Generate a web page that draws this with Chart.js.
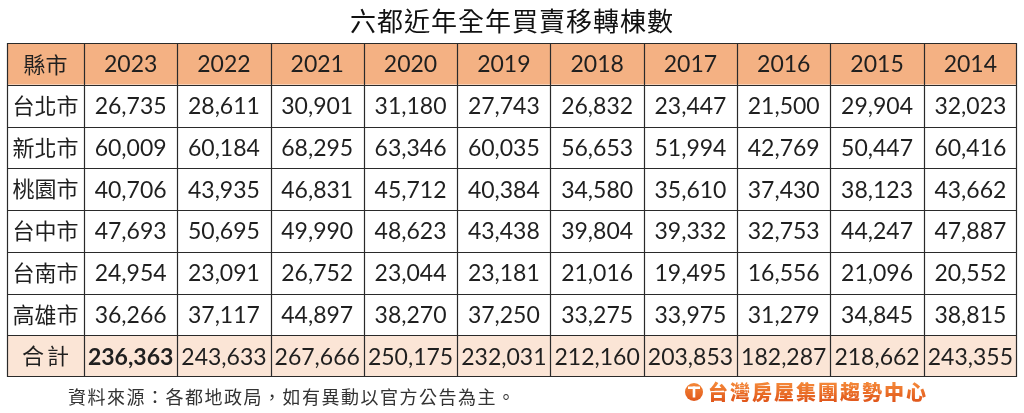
<!DOCTYPE html>
<html>
<head>
<meta charset="utf-8">
<script src="https://cdn.jsdelivr.net/npm/chart.js@4"></script>
<style>
  html, body { margin: 0; padding: 0; background: #fff; }
  #wrap { width: 1024px; height: 413px; position: relative; }
</style>
</head>
<body>
<div id="wrap"><canvas id="tableChart"></canvas></div>
<script>
// data
var title = "六都近年全年買賣移轉棟數";
var headLabel = "縣市";
var years = ["2023", "2022", "2021", "2020", "2019", "2018", "2017", "2016", "2015", "2014"];
var cities = ["台北市", "新北市", "桃園市", "台中市", "台南市", "高雄市"];
var taipei    = [26735, 28611, 30901, 31180, 27743, 26832, 23447, 21500, 29904, 32023];
var newTaipei = [60009, 60184, 68295, 63346, 60035, 56653, 51994, 42769, 50447, 60416];
var taoyuan   = [40706, 43935, 46831, 45712, 40384, 34580, 35610, 37430, 38123, 43662];
var taichung  = [47693, 50695, 49990, 48623, 43438, 39804, 39332, 32753, 44247, 47887];
var tainan    = [24954, 23091, 26752, 23044, 23181, 21016, 19495, 16556, 21096, 20552];
var kaohsiung = [36266, 37117, 44897, 38270, 37250, 33275, 33975, 31279, 34845, 38815];
var totalLabel = "合計";
var totals    = [236363, 243633, 267666, 250175, 232031, 212160, 203853, 182287, 218662, 243355];
var source = "資料來源：各都地政局，如有異動以官方公告為主。";
var brand = "台灣房屋集團趨勢中心";

var cityRows = [taipei, newTaipei, taoyuan, taichung, tainan, kaohsiung];
var firstColMin = -0.325; // label column is narrower than year columns

function fmt(n) {
    return n.toLocaleString("en-US");
}

// one point per cell; x = column index, y = row index
var datasets = cityRows.map(function (vals, r) {
    return {
        label: cities[r],
        data: vals.map(function (v, c) { return { x: c + 1, y: r + 1, v: v }; }),
        pointRadius: 0,
    };
});
datasets.push({
    label: totalLabel,
    data: totals.map(function (v, c) { return { x: c + 1, y: 7, v: v }; }),
    pointRadius: 0,
});

var CJK = '"Noto Sans CJK TC", "Noto Sans CJK SC", sans-serif';
var NUM = 'Lato, "Noto Sans", sans-serif';

var tablePlugin = {
    id: "tablePlugin",
    afterDatasetsDraw: function (chart) {
        var ctx = chart.ctx;
        var xs = chart.scales.x, ys = chart.scales.y;
        var nCols = years.length + 1, nRows = cities.length + 2;

        function colBounds(c) {
            return [xs.getPixelForValue(Math.max(c - 0.5, firstColMin)), xs.getPixelForValue(c + 0.5)];
        }
        function rowBounds(r) {
            return [ys.getPixelForValue(r - 0.5), ys.getPixelForValue(r + 0.5)];
        }

        ctx.save();
        // row backgrounds
        for (var r = 0; r < nRows; r++) {
            var rb = rowBounds(r);
            var left = colBounds(0)[0], right = colBounds(nCols - 1)[1];
            ctx.fillStyle = r === 0 ? "#F4B183" : (r === nRows - 1 ? "#FBE5D6" : "#ffffff");
            ctx.fillRect(left, rb[0], right - left, rb[1] - rb[0]);
        }

        // grid lines
        ctx.strokeStyle = "#2a2a2a";
        ctx.lineWidth = 1.2;
        var top = rowBounds(0)[0], bottom = rowBounds(nRows - 1)[1];
        var lft = colBounds(0)[0], rgt = colBounds(nCols - 1)[1];
        ctx.beginPath();
        for (var c = 0; c < nCols; c++) {
            var xb = Math.round(colBounds(c)[0]) + 0.5;
            ctx.moveTo(xb, top); ctx.lineTo(xb, bottom);
        }
        ctx.moveTo(Math.round(rgt) - 0.5, top); ctx.lineTo(Math.round(rgt) - 0.5, bottom);
        for (var r2 = 0; r2 < nRows; r2++) {
            var yb = Math.round(rowBounds(r2)[0]) + 0.5;
            ctx.moveTo(lft, yb); ctx.lineTo(rgt, yb);
        }
        ctx.moveTo(lft, Math.round(bottom) - 0.5); ctx.lineTo(rgt, Math.round(bottom) - 0.5);
        ctx.stroke();

        ctx.textAlign = "center";
        ctx.textBaseline = "middle";
        ctx.fillStyle = "#1f1f1f";

        function cellCenter(c, r) {
            var cb = colBounds(c);
            return [(cb[0] + cb[1]) / 2, ys.getPixelForValue(r)];
        }

        // header row
        var p = cellCenter(0, 0);
        ctx.font = "22px " + CJK;
        ctx.fillText(headLabel, p[0], p[1] + 1);
        ctx.font = "23px " + NUM;
        years.forEach(function (y, i) {
            var q = cellCenter(i + 1, 0);
            ctx.fillText(y, q[0], q[1] + 1);
        });

        // row labels
        ctx.font = "22px " + CJK;
        cities.forEach(function (name, i) {
            var q = cellCenter(0, i + 1);
            ctx.fillText(name, q[0], q[1]);
        });
        var tq = cellCenter(0, 7);
        ctx.letterSpacing = "3px";
        ctx.fillText(totalLabel, tq[0] + 1.5, tq[1]);
        ctx.letterSpacing = "0px";

        // values from the point elements
        chart.data.datasets.forEach(function (ds, di) {
            var meta = chart.getDatasetMeta(di);
            meta.data.forEach(function (pt, j) {
                var isTotal = ds.label === totalLabel;
                ctx.font = (isTotal && j === 0 ? "bold " : "") + "23px " + NUM;
                ctx.fillText(fmt(ds.data[j].v), pt.x, pt.y + 1);
            });
        });

        // title
        ctx.fillStyle = "#111";
        ctx.font = "26px " + CJK;
        ctx.letterSpacing = "1px";
        ctx.fillText(title, 512, 21);

        // source note
        ctx.textAlign = "left";
        ctx.fillStyle = "#333";
        ctx.font = "18px " + CJK;
        ctx.letterSpacing = "1.5px";
        ctx.fillText(source, 68, 397);

        // brand logo
        var g = ctx.createLinearGradient(0, 382, 0, 402);
        g.addColorStop(0, "#F58A3A");
        g.addColorStop(1, "#E0561A");
        ctx.fillStyle = g;
        ctx.beginPath();
        ctx.arc(694, 392, 9, 0, Math.PI * 2);
        ctx.fill();
        ctx.fillStyle = "#fff";
        ctx.fillRect(688, 386.5, 12, 2.5);
        ctx.fillRect(692.7, 386.5, 2.6, 11);
        ctx.fillStyle = g;
        ctx.font = "900 20px " + CJK;
        ctx.letterSpacing = "2px";
        ctx.fillText(brand, 708, 392);
        ctx.restore();
    },
};

var chart = new Chart(document.getElementById("tableChart").getContext("2d"), {
    type: "scatter",
    data: { datasets: datasets },
    options: {
        responsive: true,
        maintainAspectRatio: false,
        animation: false,
        events: [],
        layout: { padding: { left: 7, right: 7, top: 43, bottom: 36 } },
        scales: {
            x: { type: "linear", min: firstColMin, max: years.length + 0.5, display: false },
            y: { type: "linear", min: -0.5, max: cities.length + 1.5, reverse: true, display: false },
        },
        plugins: {
            legend: { display: false },
            tooltip: { enabled: false },
        },
    },
    plugins: [tablePlugin],
});
</script>
</body>
</html>
